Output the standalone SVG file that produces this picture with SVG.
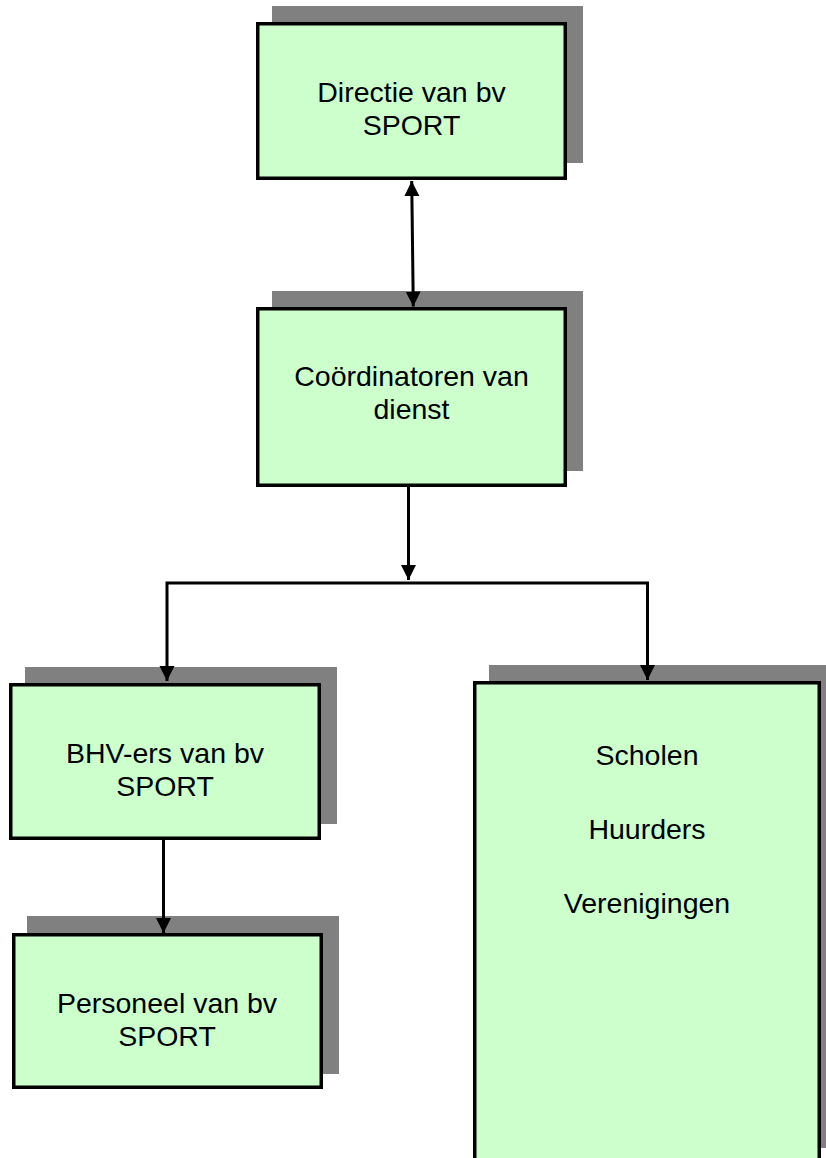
<svg xmlns="http://www.w3.org/2000/svg" width="826" height="1158" viewBox="0 0 826 1158">
  <style>
    .shadow { fill: #808080; stroke: none; }
    .box { fill: #CCFFCC; stroke: #000000; stroke-width: 3.5; }
    .label { font-family: "Liberation Sans", Arial, sans-serif; font-size: 28.5px; fill: #000000; text-anchor: middle; }
    .conn { fill: none; stroke: #000000; stroke-width: 3; }
  </style>
  <defs>
    <marker id="arrow" markerUnits="userSpaceOnUse" markerWidth="16" markerHeight="16" viewBox="0 0 16 16" refX="15" refY="7.5" orient="auto-start-reverse">
      <path d="M0,0 L15,7.5 L0,15 Z" fill="#000000"/>
    </marker>
  </defs>
  <rect width="826" height="1158" fill="#FFFFFF"/>

  <g id="node-directie">
    <rect class="shadow" x="272" y="6" width="311" height="157"/>
    <rect class="box" x="257.75" y="23.75" width="307.5" height="154.5"/>
    <text class="label"><tspan x="411.5" y="102">Directie van bv</tspan><tspan x="411.5" y="134.5">SPORT</tspan></text>
  </g>

  <g id="node-coordinatoren">
    <rect class="shadow" x="272" y="291" width="311" height="180"/>
    <rect class="box" x="257.75" y="308.75" width="307.5" height="176.5"/>
    <text class="label"><tspan x="411.5" y="386">Coördinatoren van</tspan><tspan x="411.5" y="418.5">dienst</tspan></text>
  </g>

  <g id="node-bhv">
    <rect class="shadow" x="25" y="667" width="312" height="157"/>
    <rect class="box" x="10.75" y="684.75" width="308.5" height="153.5"/>
    <text class="label"><tspan x="165" y="763">BHV-ers van bv</tspan><tspan x="165" y="795.5">SPORT</tspan></text>
  </g>

  <g id="node-personeel">
    <rect class="shadow" x="27" y="916" width="312" height="158"/>
    <rect class="box" x="13.75" y="934.75" width="307.5" height="152.5"/>
    <text class="label"><tspan x="167" y="1013">Personeel van bv</tspan><tspan x="167" y="1045.5">SPORT</tspan></text>
  </g>

  <g id="node-extern">
    <rect class="shadow" x="489" y="665" width="348" height="483"/>
    <rect class="box" x="474.75" y="682.75" width="344.5" height="490"/>
    <text class="label" x="647" y="765">Scholen</text>
    <text class="label" x="647" y="839">Huurders</text>
    <text class="label" x="647" y="913">Verenigingen</text>
  </g>

  <g id="connectors">
    <line class="conn" x1="411.7" y1="181" x2="413.3" y2="306.5" marker-start="url(#arrow)" marker-end="url(#arrow)"/>
    <line class="conn" x1="408.5" y1="487" x2="408.5" y2="580" marker-end="url(#arrow)"/>
    <polyline class="conn" points="167,681 167,583 647.5,583 647.5,680" marker-start="url(#arrow)" marker-end="url(#arrow)"/>
    <line class="conn" x1="163.5" y1="840" x2="163.5" y2="933" marker-end="url(#arrow)"/>
  </g>
</svg>
